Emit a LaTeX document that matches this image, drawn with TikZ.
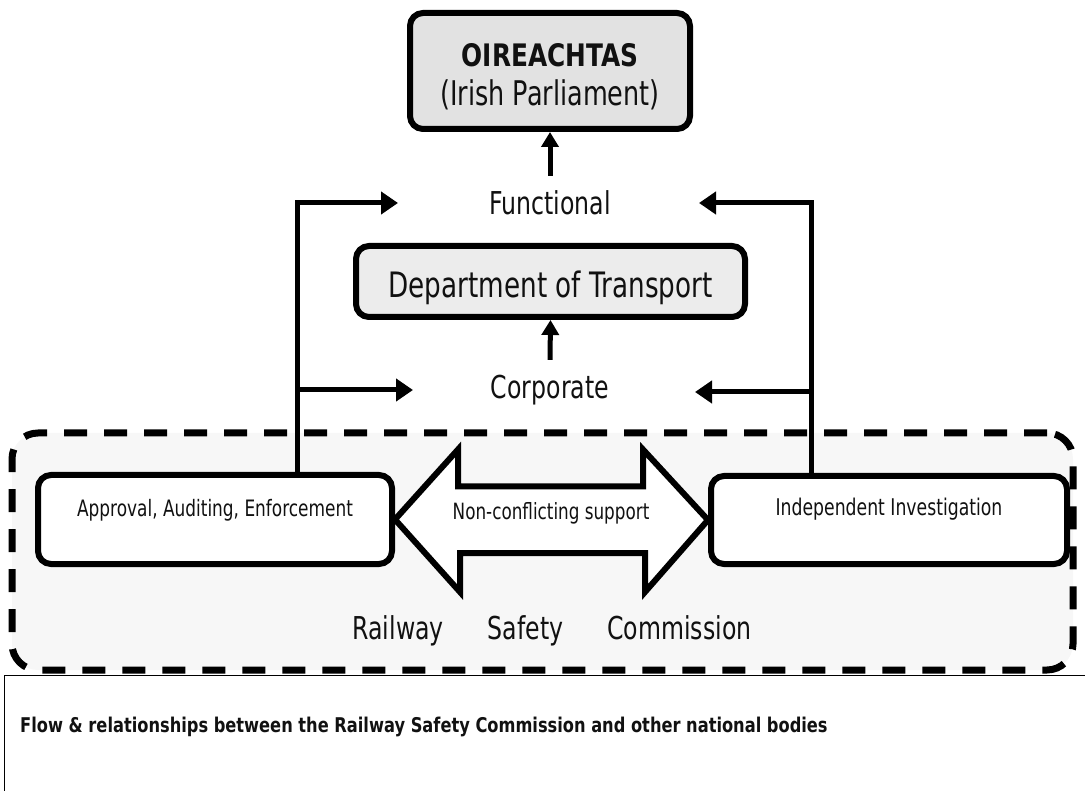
\documentclass[tikz,border=0pt]{standalone}
\usepackage{fontspec}
\setmainfont{DejaVu Sans}[FakeStretch=0.75]
\newfontfamily\headfont{DejaVu Sans}[FakeStretch=0.8]
\usetikzlibrary{arrows.meta,calc}

\definecolor{govfill}{HTML}{E2E2E2}
\definecolor{deptfill}{HTML}{ECECEC}
\definecolor{rscfill}{HTML}{F7F7F7}
\definecolor{ink}{HTML}{111111}

\newcommand{\fsz}[1]{\fontsize{#1}{#1}\selectfont}

\begin{document}
\begin{tikzpicture}[x=1pt,y=-1pt,
  box/.style={draw=black, line width=6pt, rounded corners=13pt, fill=white,
              inner sep=0pt, text=ink},
  govbox/.style={box, fill=govfill},
  deptbox/.style={box, fill=deptfill},
  region/.style={draw=black, line width=7pt, dash pattern=on 23pt off 17pt,
                 rounded corners=26pt, fill=rscfill, inner sep=0pt},
  lbl/.style={inner sep=0pt, text=ink, font=\fsz{31.5}},
  flow/.style={draw=black, line width=5pt, line join=miter,
               -{Triangle[length=17pt,width=22pt]}},
  rise/.style={draw=black, line width=5pt, -{Triangle[length=15pt,width=17pt]}},
  bigarrow/.style={draw=black, line width=6pt, fill=white, line join=miter},
]
\useasboundingbox (0,0) rectangle (1085,791);

% the Railway Safety Commission, a dashed container
\node[region, minimum width=1061pt, minimum height=237pt] (rsc) at (542.5,551.5) {};

% caption panel
\node[draw=black, line width=1.3pt, anchor=north west, inner sep=0pt,
      minimum width=1100pt, minimum height=140pt] (cap) at (4,675) {};
\node[anchor=west, inner sep=0pt, text=ink, font=\headfont\bfseries\fsz{20.3}] (capt) at (20,727)
  {Flow \& relationships between the Railway Safety Commission and other national bodies};

% national bodies
\node[govbox, minimum width=280pt, minimum height=116pt,
      label={[lbl, font=\headfont\bfseries\fsz{31}, yshift=16pt]center:OIREACHTAS},
      label={[lbl, font=\fsz{34}, yshift=-24pt]center:(Irish Parliament)}] (oir) at (550,71) {};
\node[lbl] (func) at (550,203) {Functional};
\node[deptbox, minimum width=389pt, minimum height=71pt,
      label={[lbl, font=\fsz{35}, yshift=-6pt]center:Department of Transport}] (dept) at (550.5,281.5) {};
\node[lbl] (corp) at (550,390) {Corporate};

% the two arms of the commission
\node[box, minimum width=354pt, minimum height=89pt,
      label={[lbl, font=\fsz{22.6}, yshift=9pt]center:Approval, Auditing, Enforcement}] (appr) at (215,519.5) {};
\node[box, minimum width=356pt, minimum height=88pt,
      label={[lbl, font=\fsz{23}, yshift=11pt]center:Independent Investigation}] (inv) at (889,520) {};

\node[lbl, font=\fsz{31.5}] (rscname) at (552,631)
  {Railway\hspace{44pt}Safety\hspace{44pt}Commission};

% upward reporting
\draw[rise] (func.north) ++(0,-15) -- (oir.south);
\draw[rise] (corp.north) ++(0,-15) -- (dept.south);

% reporting lines from each arm
\coordinate (aJ) at (297,472);
\coordinate (iJ) at (811,473);
\coordinate (fL) at (398,203);
\coordinate (fR) at (699,203);
\coordinate (cL) at (413,390);
\coordinate (cR) at (695,392);
\draw[flow] (aJ) |- (fL);
\draw[flow] (aJ |- cL) -- (cL);
\draw[flow] (iJ) |- (fR);
\draw[flow] (iJ |- cR) -- (cR);

% two-headed block arrow between the arms
\draw[bigarrow] (appr.east) -- ++(63,-70) -- ++(0,37) -- ++(185,0) -- ++(0,-37)
  -- (inv.west) -- ++(-63,72) -- ++(0,-39) -- ++(-185,0) -- ++(0,39) -- cycle;
\node[lbl, font=\fsz{22.4}] (support) at (551,513) {Non-conflicting support};

\end{tikzpicture}
\end{document}
